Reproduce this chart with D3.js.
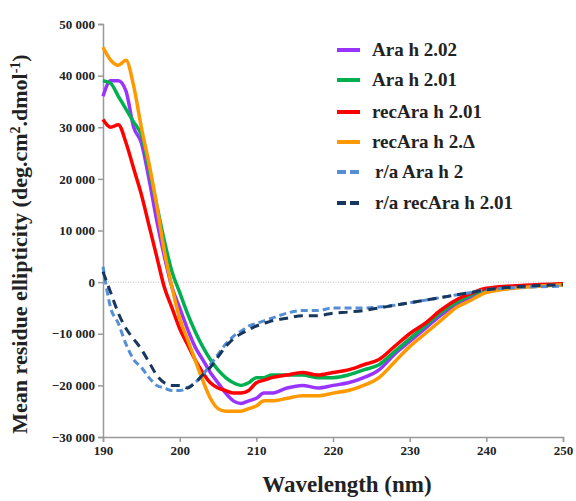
<!DOCTYPE html><html><head><meta charset="utf-8"><script src="https://cdn.jsdelivr.net/npm/d3@7"></script>
<style>body{margin:0;background:#fff}text{font-family:"Liberation Serif",serif;font-weight:bold;fill:#222}</style></head><body><svg id="c" width="576" height="501"></svg><script>
const wl=[190,191,192,193,194,195,196,197,198,199,200,201,202,203,204,205,206,207,208,209,210,211,212,214,216,218,220,222,224,226,228,230,232,234,236,238,240,245,250];
const araH202=[36000,39000,39000,37000,30000,27000,20000,12000,5000,-1000,-5000,-9000,-12500,-15000,-17500,-19500,-21500,-23000,-23500,-23000,-22500,-21500,-21500,-20500,-20000,-20500,-20000,-19500,-18500,-17000,-14000,-11500,-9000,-6500,-4500,-3000,-1800,-800,-400];
const araH201=[39000,38500,36000,33500,31000,28500,22000,15000,8000,2000,-2000,-6000,-9500,-12500,-15000,-17000,-18500,-19500,-20000,-19500,-18500,-18500,-18000,-18000,-18000,-18500,-18500,-18000,-17000,-16000,-13500,-11000,-8500,-6000,-4000,-2500,-1500,-800,-500];
const recAraH201=[31500,30000,30500,27000,22000,17000,11000,5000,-1000,-5000,-9000,-12000,-15000,-17500,-19500,-20500,-21000,-21500,-21500,-21000,-19500,-19000,-18500,-18000,-17500,-18000,-17500,-17000,-16000,-15000,-12500,-10000,-8000,-5500,-3500,-2200,-1200,-600,-300];
const recAraH2D=[45500,43000,42000,43000,38000,30000,23000,15000,6000,-1000,-7000,-11000,-15000,-19000,-22500,-24500,-25000,-25000,-25000,-24500,-24000,-23000,-23000,-22500,-22000,-22000,-21500,-21000,-20000,-18500,-15500,-12500,-10000,-7500,-5000,-3500,-2000,-1000,-500];
const raAraH2=[3000,-5000,-8000,-12000,-15000,-16500,-18500,-20000,-20500,-21000,-21000,-20500,-19500,-18000,-16000,-14000,-12000,-10500,-9500,-8500,-8000,-7500,-7000,-6000,-5500,-5500,-5000,-5000,-5000,-4800,-4500,-4000,-3500,-3000,-2500,-2000,-1500,-1000,-800];
const raRecAraH201=[2000,-2000,-6000,-9000,-11000,-13000,-15500,-18000,-19500,-20000,-20000,-20500,-19500,-18000,-16500,-14500,-12500,-11000,-10000,-9200,-8500,-8000,-7500,-7000,-6500,-6500,-6000,-5800,-5500,-5000,-4500,-4000,-3500,-3000,-2500,-2000,-1500,-800,-500];
const xTicks=[190,200,210,220,230,240,250];
const yTicks=[-30000,-20000,-10000,0,10000,20000,30000,40000,50000];
const series=[
 {name:"Ara h 2.02",v:araH202,c:"#9933ff",d:null},
 {name:"Ara h 2.01",v:araH201,c:"#00b050",d:null},
 {name:"recAra h 2.01",v:recAraH201,c:"#ff0000",d:null},
 {name:"recAra h 2.Δ",v:recAraH2D,c:"#ff9900",d:null},
 {name:"r/a Ara h 2",v:raAraH2,c:"#558ed5",d:"7,4"},
 {name:"r/a recAra h 2.01",v:raRecAraH201,c:"#17375e",d:"9,6"}];
const svg=d3.select("#c");
const x=d3.scaleLinear().domain([190,250]).range([103,563]);
const y=d3.scaleLinear().domain([-30000,50000]).range([437,24]);
const fmt=v=>v===0?"0":d3.format(",")(v).replace(/,/g," ");
svg.append("line").attr("x1",x(190)).attr("x2",x(250)).attr("y1",y(0)).attr("y2",y(0)).attr("stroke","#bbb").attr("stroke-dasharray","1,1.5");
const xa=svg.append("g").attr("transform",`translate(0,${y(-30000)})`).call(d3.axisBottom(x).tickValues(xTicks).tickSize(5).tickPadding(4));
const ya=svg.append("g").attr("transform",`translate(${x(190)},0)`).call(d3.axisLeft(y).tickValues(yTicks).tickFormat(fmt).tickSize(5).tickPadding(3));
[xa,ya].forEach(a=>{a.selectAll("path,line").attr("stroke","#999").attr("stroke-width",1.5);a.selectAll("text").style("font-size","13px").style("font-family","Liberation Serif").style("font-weight","bold").attr("fill","#222");});
const line=d3.line().x((d,i)=>x(wl[i])).y(d=>y(d)).curve(d3.curveMonotoneX);
series.forEach(s=>svg.append("path").datum(s.v).attr("d",line).attr("fill","none").attr("stroke",s.c).attr("stroke-width",s.d?3:3.5).attr("stroke-dasharray",s.d));
const ly=[50,80,112,142,172,203];
series.forEach((s,i)=>{svg.append("line").attr("x1",337).attr("x2",360).attr("y1",ly[i]).attr("y2",ly[i]).attr("stroke",s.c).attr("stroke-width",4).attr("stroke-dasharray",s.d?"9,4":null);
 svg.append("text").attr("x",s.d?375:372).attr("y",ly[i]+6).style("font-size","19px").text(s.name);});
svg.append("text").attr("x",347).attr("y",492).attr("text-anchor","middle").style("font-size","23px").text("Wavelength (nm)");
const yt=svg.append("text").attr("transform",`translate(27,244) rotate(-90)`).attr("text-anchor","middle").style("font-size","22px");
yt.append("tspan").text("Mean residue ellipticity (deg.cm");yt.append("tspan").attr("dy",-7).style("font-size","14px").text("2");
yt.append("tspan").attr("dy",7).text(".dmol");yt.append("tspan").attr("dy",-7).style("font-size","14px").text("-1");yt.append("tspan").attr("dy",7).text(")");
</script></body></html>
